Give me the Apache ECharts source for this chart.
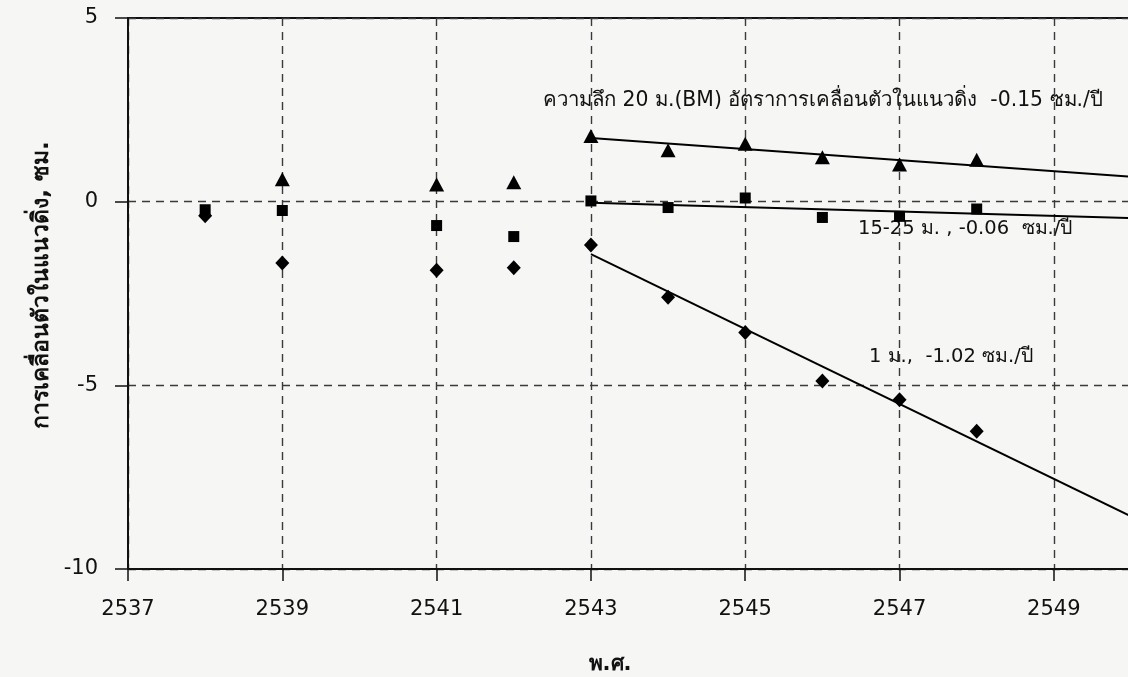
<!DOCTYPE html>
<html>
<head>
<meta charset="utf-8">
<script src="https://cdn.jsdelivr.net/npm/echarts@6/dist/echarts.min.js"></script>
<style>
  html, body { margin: 0; padding: 0; background: #f6f6f4; }
  #chart { width: 1128px; height: 677px; }
</style>
</head>
<body>
<div id="chart"></div>
<script>
// Survey years (B.E.) and vertical movement (cm) at three benchmark depths
const years = [2538, 2539, 2541, 2542, 2543, 2544, 2545, 2546, 2547, 2548];
const depth20m = [null, 0.61, 0.47, 0.53, 1.79, 1.40, 1.58, 1.21, 1.01, 1.14];     // BM, 20 m
const depth15to25m = [-0.22, -0.24, -0.65, -0.95, 0.02, -0.16, 0.10, -0.43, -0.40, -0.20];
const depth1m = [-0.38, -1.67, -1.87, -1.80, -1.18, -2.60, -3.56, -4.88, -5.39, -6.25];

// Rates of movement (cm/year) fitted from 2543 onwards
const trendSlopes = [-0.15, -0.06, -1.02];
const trendFrom = 2543;
const trendTo = 2550;

const xTicks = [2537, 2539, 2541, 2543, 2545, 2547, 2549];
const yTicks = [-10, -5, 0, 5];

const yTitle = 'การเคลื่อนตัวในแนวดิ่ง, ซม.';
const xTitle = 'พ.ศ.';
const note20 = 'ความลึก 20 ม.(BM) อัตราการเคลื่อนตัวในแนวดิ่ง  -0.15 ซม./ปี';
const note15 = '15-25 ม. , -0.06  ซม./ปี';
const note1 = '1 ม.,  -1.02 ซม./ปี';

const FONT = '"DejaVu Sans", "Noto Sans", "Liberation Sans", sans-serif';
const INK = '#111';

function pairs(values) {
  return years.map((y, i) => [y, values[i]]).filter(p => p[1] !== null);
}

// Trend line with the stated slope, passing through the mean of the fitted points
function trendLine(values, slope) {
  const pts = pairs(values).filter(p => p[0] >= trendFrom);
  const mx = pts.reduce((s, p) => s + p[0], 0) / pts.length;
  const my = pts.reduce((s, p) => s + p[1], 0) / pts.length;
  const at = x => my + slope * (x - mx);
  return [[trendFrom, at(trendFrom)], [trendTo, at(trendTo)]];
}

const markerSeries = (name, values, symbol, size) => ({
  name, type: 'scatter', data: pairs(values), symbol, symbolSize: size,
  itemStyle: { color: '#000', opacity: 1 }, z: 4
});

const lineSeries = (name, values, slope) => ({
  name, type: 'line', data: trendLine(values, slope), showSymbol: false,
  symbol: 'none', lineStyle: { color: '#000', width: 2 }, z: 3, silent: true
});

const chart = echarts.init(document.getElementById('chart'));
chart.setOption({
  backgroundColor: '#f6f6f4',
  animation: false,
  grid: {
    left: 128, width: 1003, top: 18, bottom: 108,
    outerBoundsMode: 'none', containLabel: false,
    show: true, borderColor: INK, borderWidth: 2, backgroundColor: 'transparent'
  },
  xAxis: {
    type: 'value', min: xTicks[0], max: trendTo, interval: 2,
    axisLine: { show: true, onZero: false, lineStyle: { color: INK, width: 2 } },
    axisTick: { show: true, length: 12, lineStyle: { color: INK, width: 1.5 } },
    axisLabel: {
      showMaxLabel: false, margin: 30, color: INK, fontSize: 21, fontFamily: FONT,
      formatter: v => (xTicks.includes(v) ? String(v) : '')
    },
    splitLine: { show: true, lineStyle: { color: '#3a3a3a', width: 1.4, type: [8, 6] } }
  },
  yAxis: {
    type: 'value', min: yTicks[0], max: yTicks[yTicks.length - 1], interval: 5,
    axisLine: { show: true, onZero: false, lineStyle: { color: INK, width: 2 } },
    axisTick: { show: true, length: 13, lineStyle: { color: INK, width: 1.5 } },
    axisLabel: { margin: 30, color: INK, fontSize: 21, fontFamily: FONT, formatter: v => String(v) },
    splitLine: { show: true, lineStyle: { color: '#3a3a3a', width: 1.4, type: [8, 6] } }
  },
  series: [
    markerSeries('20 ม.', depth20m, 'triangle', [15, 14]),
    markerSeries('15-25 ม.', depth15to25m, 'rect', 11),
    markerSeries('1 ม.', depth1m, 'diamond', [14, 15]),
    lineSeries('20 ม. trend', depth20m, trendSlopes[0]),
    lineSeries('15-25 ม. trend', depth15to25m, trendSlopes[1]),
    lineSeries('1 ม. trend', depth1m, trendSlopes[2])
  ],
  graphic: [
    {
      type: 'text', x: 42, y: 285, rotation: Math.PI / 2,
      style: { text: yTitle, fill: INK, font: 'bold 23px ' + FONT, align: 'center', verticalAlign: 'middle' }
    },
    {
      type: 'text', x: 610, y: 665,
      style: { text: xTitle, fill: INK, font: 'bold 21px ' + FONT, align: 'center', verticalAlign: 'middle' }
    },
    {
      type: 'text', x: 543, y: 101,
      style: { text: note20, fill: INK, font: '20.4px ' + FONT, align: 'left', verticalAlign: 'middle' }
    },
    {
      type: 'text', x: 858, y: 229,
      style: { text: note15, fill: INK, font: '19.5px ' + FONT, align: 'left', verticalAlign: 'middle' }
    },
    {
      type: 'text', x: 869, y: 357,
      style: { text: note1, fill: INK, font: '19.5px ' + FONT, align: 'left', verticalAlign: 'middle' }
    }
  ]
});
</script>
</body>
</html>
